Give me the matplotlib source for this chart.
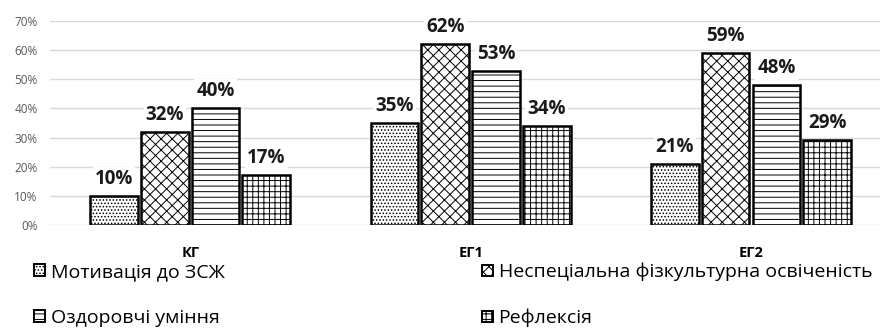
import numpy as np
import matplotlib.pyplot as plt
from matplotlib.patches import Patch

plt.rcParams['font.family'] = ['Open Sans', 'DejaVu Sans']
plt.rcParams['hatch.linewidth'] = 0.7

groups = ['КГ', 'ЕГ1', 'ЕГ2']
series = ['Мотивація до ЗСЖ', 'Неспеціальна фізкультурна освіченість',
          'Оздоровчі уміння', 'Рефлексія']
motivation = [10, 35, 21]
literacy = [32, 62, 59]
skills = [40, 53, 48]
reflection = [17, 34, 29]
values = [motivation, literacy, skills, reflection]
hatches = ['.....', 'xxx', '---', '+++']

W, H = 880, 331
fig = plt.figure(figsize=(W / 100, H / 100), dpi=100)
ax = fig.add_axes([50 / W, 1 - 225 / H, 1 - 50 / W, 204 / H])

x = np.arange(len(groups))
width = 0.17
step = 0.181
for i, (vals, h) in enumerate(zip(values, hatches)):
    pos = x + (i - 1.5) * step
    ax.bar(pos, vals, width, facecolor='white', edgecolor='black',
           hatch=h, linewidth=1.8, zorder=3)
    for px, v in zip(pos, vals):
        ax.text(px, v + 2.4, f'{v}%', ha='center', va='bottom',
                fontsize=13.5, fontweight='bold', color='#1a1a1a', zorder=4,
                bbox=dict(facecolor='white', edgecolor='none', pad=1.5))

ax.set_xlim(-0.5, 2.46)
ax.set_ylim(0, 70)
ax.set_yticks(range(0, 71, 10))
ax.set_yticklabels([f'{t}%' for t in range(0, 71, 10)], color='#595959', fontsize=8.5)
ax.yaxis.grid(True, color='#d9d9d9', linewidth=1)
ax.set_axisbelow(True)
ax.set_xticks(x)
ax.set_xticklabels(groups, fontsize=10.5, fontweight='bold')
ax.tick_params(axis='y', length=0, pad=9)
ax.tick_params(axis='x', length=0, pad=15)
for s in ax.spines.values():
    s.set_visible(False)

# legend entries laid out row by row: two columns, two rows
spots = [(34, 272), (482, 272), (34, 318), (482, 318)]
for label, h, (lx, ly) in zip(series, hatches, spots):
    hd = Patch(facecolor='white', edgecolor='black', hatch=h, linewidth=1.4)
    fig.legend([hd], [label], loc='center left',
               bbox_to_anchor=(lx / W, 1 - ly / H), frameon=False,
               fontsize=14, handlelength=0.55, handleheight=0.55,
               handletextpad=0.3, borderpad=0, borderaxespad=0)

fig.savefig('out.png', dpi=100)
